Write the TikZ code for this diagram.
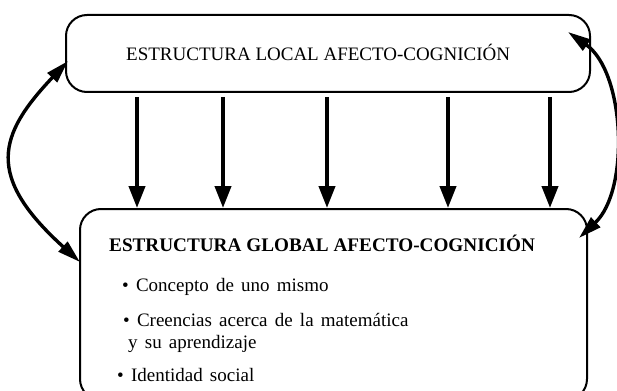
\documentclass[tikz,border=0pt]{standalone}
\usepackage{fontspec}
\setmainfont{Liberation Serif}
\usetikzlibrary{arrows.meta}
\newcommand\myspace[1]{\spaceskip=#1\relax}
\begin{document}
\begin{tikzpicture}[x=1pt,y=-1pt,
  box/.style={draw, line width=2pt, rounded corners=21pt, inner sep=0pt},
  txt/.style={anchor=base west, inner sep=0pt, font=\fontsize{19}{22}\selectfont},
  downarrow/.style={line width=4pt, shorten <=5pt, -{Triangle[length=22pt,width=16pt]}},
  bendarrow/.style={line width=3.4pt, {Triangle[length=23pt,width=13pt]}-{Triangle[length=23pt,width=13pt]}}]
\clip (0,0) rectangle (617,390);
\node[box, minimum width=524pt, minimum height=77pt] (top) at (328,53.5) {};
\node[box, minimum width=507pt, minimum height=191pt] (bot) at (333.5,304.5) {};
\node[txt] (tl) at (126,61) {ESTRUCTURA LOCAL AFECTO-COGNICIÓN};
\node[txt, font=\fontsize{19.2}{22}\selectfont\bfseries] (bt) at (109,251) {\myspace{5pt}ESTRUCTURA GLOBAL AFECTO-COGNICIÓN};
\node[txt] (b1) at (122,291) {\myspace{7.2pt}\textbullet\ Concepto de uno mismo};
\node[txt] (b2) at (123,326) {\myspace{7.2pt}\textbullet\ Creencias acerca de la matemática};
\node[txt] (b2b) at (128,348) {\myspace{7.2pt}y su aprendizaje};
\node[txt] (b3) at (117,381) {\myspace{7.2pt}\textbullet\ Identidad social};
\foreach \x/\n in {137/a,223/b,327/c,448/d,550/e}{
  \coordinate (s\n) at (\x,92);
  \draw[downarrow] (s\n) -- (s\n |- bot.north);
}
\coordinate (lt) at (68,61);
\coordinate (lb) at (80,262);
\coordinate (rt) at (568,32);
\coordinate (rb) at (579,238);
\draw[bendarrow] (lt) .. controls (-2,135) and (-15,176) .. (lb);
\draw[bendarrow] (rt) .. controls (625,72) and (630,190) .. (rb);
\end{tikzpicture}
\end{document}
